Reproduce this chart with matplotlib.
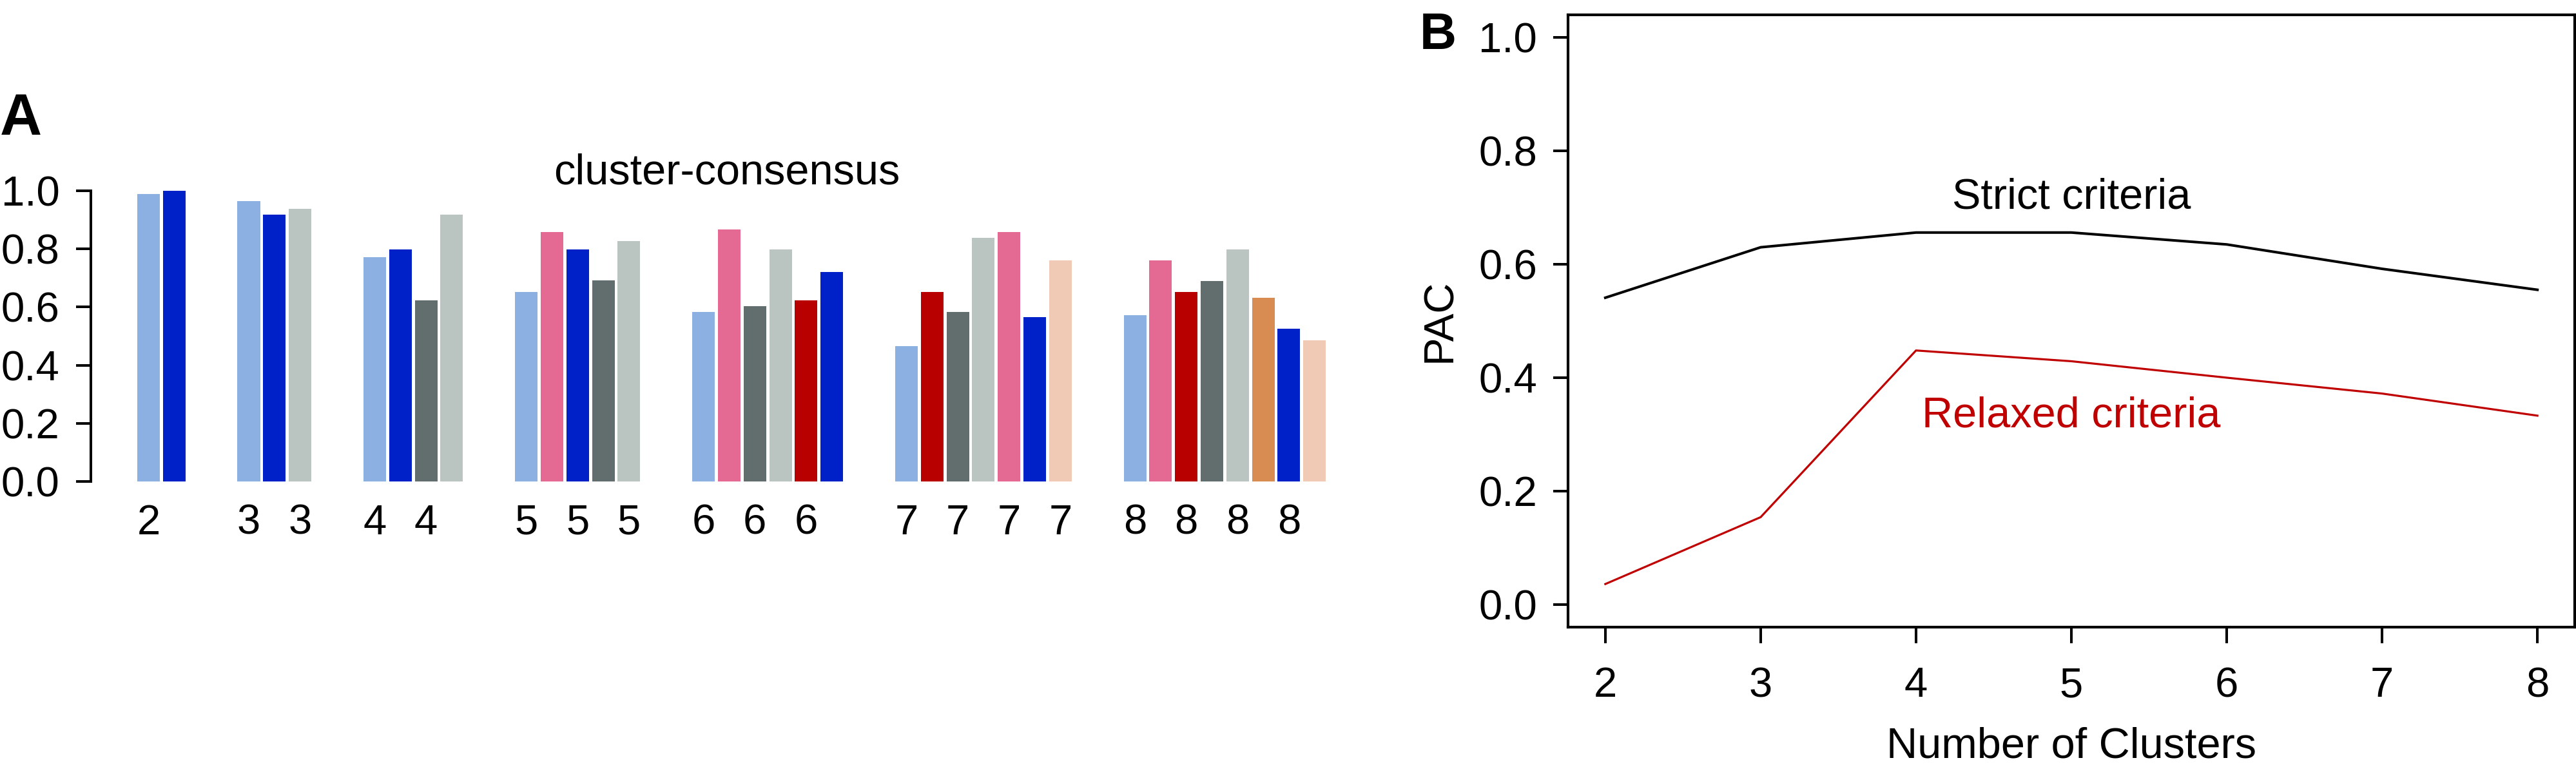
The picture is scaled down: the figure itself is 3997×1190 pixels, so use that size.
import matplotlib
matplotlib.use('Agg')
import matplotlib.pyplot as plt

plt.rcParams['font.family'] = ['Liberation Sans', 'DejaVu Sans']

W, H = 3997, 1190
DPI = 100

# ---------------- data ----------------
cluster_k = [2, 3, 4, 5, 6, 7, 8]

cc_k2 = [0.99, 1.00]
cc_k3 = [0.965, 0.917, 0.937]
cc_k4 = [0.771, 0.798, 0.622, 0.917]
cc_k5 = [0.652, 0.857, 0.798, 0.692, 0.828]
cc_k6 = [0.584, 0.866, 0.603, 0.798, 0.622, 0.721]
cc_k7 = [0.466, 0.652, 0.584, 0.839, 0.857, 0.565, 0.760]
cc_k8 = [0.573, 0.760, 0.652, 0.690, 0.798, 0.633, 0.525, 0.485]

LB, DB, LG, DG = '#8cb0e2', '#0020c8', '#bac4c1', '#616e6d'
PK, DR, PE, OR = '#e46a93', '#b80000', '#f0cab4', '#d88c52'

col_k2 = [LB, DB]
col_k3 = [LB, DB, LG]
col_k4 = [LB, DB, DG, LG]
col_k5 = [LB, PK, DB, DG, LG]
col_k6 = [LB, PK, DG, LG, DR, DB]
col_k7 = [LB, DR, DG, LG, PK, DB, PE]
col_k8 = [LB, PK, DR, DG, LG, OR, DB, PE]

pac_k = [2, 3, 4, 5, 6, 7, 8]
pac_strict = [0.541, 0.630, 0.656, 0.656, 0.635, 0.592, 0.555]
pac_relaxed = [0.036, 0.154, 0.448, 0.429, 0.400, 0.372, 0.333]

# ---------------- figure ----------------
fig = plt.figure(figsize=(W / DPI, H / DPI), dpi=DPI)

def fx(px):
    return px / W

def fy(py):
    return 1 - py / H

TICK_FS = 47
LABEL_FS = 48

# Panel A
pitch = 39.8
c0 = 230.4
gap = 1.91
xl_left, xl_right = -2.256, 47.0
ax_left_px = 140.6
ax_right_px = c0 + xl_right * pitch
y0_px, y1_px = 747, 296
ytop = 1.02
ytop_px = y0_px - (y0_px - y1_px) * ytop
axA = fig.add_axes([fx(ax_left_px), fy(y0_px),
                    fx(ax_right_px - ax_left_px), (y0_px - ytop_px) / H])

groups = [cc_k2, cc_k3, cc_k4, cc_k5, cc_k6, cc_k7, cc_k8]
gcols = [col_k2, col_k3, col_k4, col_k5, col_k6, col_k7, col_k8]
pos = 0.0
xt, xl = [], []
for gi, (vals, cols, k) in enumerate(zip(groups, gcols, cluster_k)):
    xs = [pos + i for i in range(len(vals))]
    axA.bar(xs, vals, width=0.88, color=cols, edgecolor='none')
    for i, x in enumerate(xs):
        xt.append(x)
        xl.append(str(k) if i % 2 == 0 else '')
    pos = xs[-1] + 1 + gap

axA.set_xlim(xl_left, xl_right)
axA.set_ylim(0, ytop)
for s in ['top', 'right', 'bottom']:
    axA.spines[s].set_visible(False)
axA.spines['left'].set_bounds(0, 1)
axA.spines['left'].set_linewidth(2.9)
axA.set_yticks([0, 0.2, 0.4, 0.6, 0.8, 1.0])
axA.set_yticklabels(['0.0', '0.2', '0.4', '0.6', '0.8', '1.0'])
axA.tick_params(axis='y', length=16.6, width=2.9, pad=18, labelsize=TICK_FS)
axA.set_xticks(xt)
axA.set_xticklabels(xl)
axA.tick_params(axis='x', length=0, pad=25, labelsize=TICK_FS)

fig.text(fx(1128), fy(286), 'cluster-consensus', ha='center', va='baseline', fontsize=LABEL_FS)
fig.text(fx(0), fy(209), 'A', ha='left', va='baseline', fontsize=65, fontweight='bold')

# Panel B
axB = fig.add_axes([fx(2433), fy(973), fx(3995 - 2433), (973 - 23) / H])
axB.plot(pac_k, pac_strict, color='black', lw=2.9)
axB.plot(pac_k, pac_relaxed, color='#c00000', lw=2.3)
axB.set_xlim(1.76, 8.24)
axB.set_ylim(-0.04, 1.04)
for s in axB.spines.values():
    s.set_linewidth(3)
axB.set_yticks([0, 0.2, 0.4, 0.6, 0.8, 1.0])
axB.set_yticklabels(['0.0', '0.2', '0.4', '0.6', '0.8', '1.0'])
axB.set_xticks(pac_k)
axB.tick_params(axis='y', length=16.6, width=2.9, pad=18, labelsize=TICK_FS)
axB.tick_params(axis='x', length=18, width=2.9, pad=26, labelsize=TICK_FS)
axB.text(5.0, 0.698, 'Strict criteria', ha='center', va='baseline', fontsize=LABEL_FS, color='black')
axB.text(5.0, 0.313, 'Relaxed criteria', ha='center', va='baseline', fontsize=LABEL_FS, color='#c00000')

fig.text(fx(3214), fy(1175), 'Number of Clusters', ha='center', va='baseline', fontsize=LABEL_FS)
fig.text(fx(2234), fy(497), 'PAC', ha='center', va='center', rotation=90, fontsize=47)
fig.text(fx(2203), fy(76), 'B', ha='left', va='baseline', fontsize=57, fontweight='bold')

fig.savefig('out.png', dpi=DPI)
